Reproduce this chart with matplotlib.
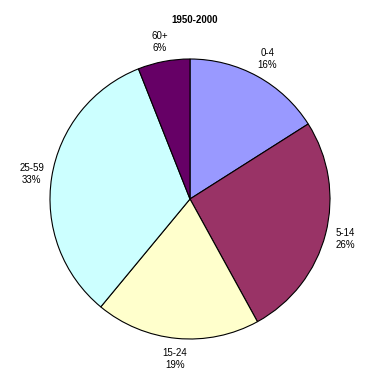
import numpy as np
import matplotlib
matplotlib.use('Agg')
import matplotlib.pyplot as plt

plt.rcParams['font.family'] = ['Liberation Sans', 'DejaVu Sans']

groups = ['0-4', '5-14', '15-24', '25-59', '60+']
shares = [16, 26, 19, 33, 6]
colors = ['#9999FF', '#993366', '#FFFFCC', '#CCFFFF', '#660066']

fig = plt.figure(figsize=(3.9, 3.9), dpi=100)
ax = fig.add_axes([0, 0, 1, 1])

wedges, _ = ax.pie(shares, colors=colors, startangle=90, counterclock=False,
                   wedgeprops=dict(edgecolor='black', linewidth=0.8))

# put each label outside its wedge, centred
for w, g, s in zip(wedges, groups, shares):
    ang = np.deg2rad((w.theta1 + w.theta2) / 2)
    x = 1.145 * np.cos(ang)
    y = 1.145 * np.sin(ang)
    ax.text(x, y, '%s\n%d%%' % (g, s), ha='center', va='center',
            fontsize=7, linespacing=1.25, color='black')

# pie centre at (190, 199) px from top-left, radius 140 px
ax.set_xlim(-190 / 140, 200 / 140)
ax.set_ylim(-191 / 140, 199 / 140)
ax.set_aspect('equal')
ax.axis('off')

fig.text(195 / 390, 1 - 20 / 390, '1950-2000', ha='center', va='center',
         fontsize=7, fontweight='bold')

fig.savefig('out.png', dpi=100)
